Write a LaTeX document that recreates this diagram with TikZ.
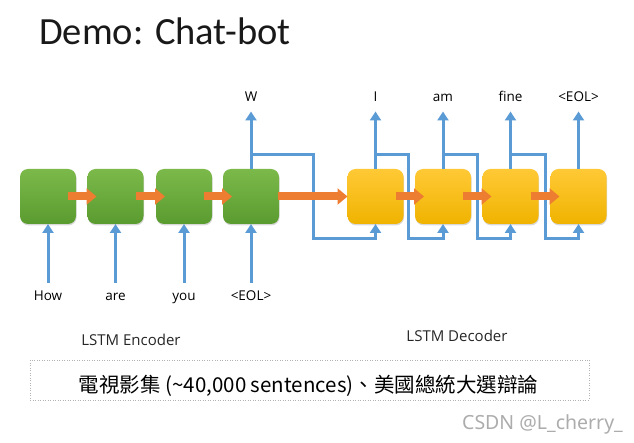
\documentclass[tikz,border=0pt]{standalone}
\usepackage{fontspec}
\setmainfont{Open Sans}
\newfontfamily\titlefont{Carlito}
\newfontfamily\cjkfont{Noto Sans CJK TC}
\newfontfamily\wmfont{Noto Sans}
\usetikzlibrary{arrows.meta,shadows,calc}
\definecolor{encTop}{HTML}{7CB94B}
\definecolor{encBot}{HTML}{5A9B2F}
\definecolor{decTop}{HTML}{FFC936}
\definecolor{decBot}{HTML}{F0B300}
\definecolor{orangeC}{HTML}{ED7D31}
\definecolor{blueC}{HTML}{5B9BD5}
\begin{document}
\begin{tikzpicture}[x=1pt,y=-1pt,
  cell/.style={rounded corners=8pt, minimum width=56pt, minimum height=55pt, inner sep=0pt, outer sep=0pt,
    drop shadow={shadow xshift=0.6pt, shadow yshift=-1.4pt, opacity=0.3}},
  enccell/.style={cell, top color=encTop, bottom color=encBot},
  deccell/.style={cell, top color=decTop, bottom color=decBot},
  word/.style={font=\fontsize{13.5}{15}\selectfont, inner sep=0pt, outer sep=0pt, text height=10pt, text depth=3pt, anchor=base},
  caption/.style={font=\fontsize{15}{18}\selectfont, inner sep=0pt, anchor=base, text=black!85},
  blueline/.style={draw=blueC, line width=3pt},
  bluearr/.style={blueline, -{Triangle[width=11pt,length=9pt]}},
  orangearr/.style={draw=orangeC, line width=8pt, -{Triangle[width=16pt,length=10pt]}}
]
\useasboundingbox (0,0) rectangle (634,443);

% title
\node[font=\titlefont\fontsize{38.5}{44}\selectfont, anchor=base west, inner sep=0pt, text=black!90] (title) at (39,45) {Demo: Chat-bot};

% cells
\node[enccell] (e1) at (48,196.5) {};
\node[enccell] (e2) at (115.5,196.5) {};
\node[enccell] (e3) at (184,196.5) {};
\node[enccell] (e4) at (251,196.5) {};
\node[deccell] (d1) at (375.5,196.5) {};
\node[deccell] (d2) at (443,196.5) {};
\node[deccell] (d3) at (510.5,196.5) {};
\node[deccell] (d4) at (578.5,196.5) {};

% input words
\node[word] (i1) at (48,301) {How};
\node[word] (i2) at (115.5,301) {are};
\node[word] (i3) at (184,301) {you};
\node[word] (i4) at (251,301) {<EOL>};

% output words
\node[word] (o0) at (251,102) {W};
\node[word] (o1) at (375.5,102) {I};
\node[word] (o2) at (443,102) {am};
\node[word] (o3) at (510.5,102) {fine};
\node[word] (o4) at (578.5,102) {<EOL>};

% captions
\node[caption] (encl) at (131,345) {LSTM Encoder};
\node[caption] (decl) at (457,341.5) {LSTM Decoder};

% input arrows
\foreach \i in {1,...,4}{
  \draw[bluearr, shorten <=8pt] (i\i.north) -- (e\i.south);
}
% output arrows
\draw[bluearr, shorten >=6.5pt] (e4.north) -- (o0.south);
\foreach \i in {1,...,4}{
  \draw[bluearr, shorten >=6.5pt] (d\i.north) -- (o\i.south);
}
% feedback branches
\draw[bluearr] (e4.north) ++(0,-14) -- ++(62,0) -- ++(0,84) -| (d1.south);
\draw[bluearr] (d1.north) ++(0,-14) -- ++(33,0) -- ++(0,84) -| (d2.south);
\draw[bluearr] (d2.north) ++(0,-14) -- ++(34,0) -- ++(0,84) -| (d3.south);
\draw[bluearr] (d3.north) ++(0,-14) -- ++(34.5,0) -- ++(0,84) -| (d4.south);

% orange state arrows
\draw[orangearr] ($(e1.east)+(-8,0)$) -- ($(e2.west)+(9,0)$);
\draw[orangearr] ($(e2.east)+(-8,0)$) -- ($(e3.west)+(9,0)$);
\draw[orangearr] ($(e3.east)+(-8,0)$) -- ($(e4.west)+(9,0)$);
\draw[orangearr] ($(e4.east)+(-1,0)$) -- (d1.west);
\draw[orangearr] ($(d1.east)+(-8,0)$) -- ($(d2.west)+(9,0)$);
\draw[orangearr] ($(d2.east)+(-8,0)$) -- ($(d3.west)+(9,0)$);
\draw[orangearr] ($(d3.east)+(-8,0)$) -- ($(d4.west)+(9,0)$);

% dataset note
\draw[gray!60, line width=0.6pt, dash pattern=on 1pt off 1.5pt] (30,360) rectangle (589,400);
\node[font=\cjkfont\fontsize{20.5}{24}\selectfont, anchor=base, inner sep=0pt] (note) at (308.5,392.5) {電視影集 (\textasciitilde 40,000 sentences)、美國總統大選辯論};

% watermark
\node[font=\wmfont\fontsize{19.5}{23}\selectfont, anchor=base west, inner sep=0pt, text=gray!65] (wm) at (462,429) {CSDN @L\_cherry\_};
\end{tikzpicture}
\end{document}
